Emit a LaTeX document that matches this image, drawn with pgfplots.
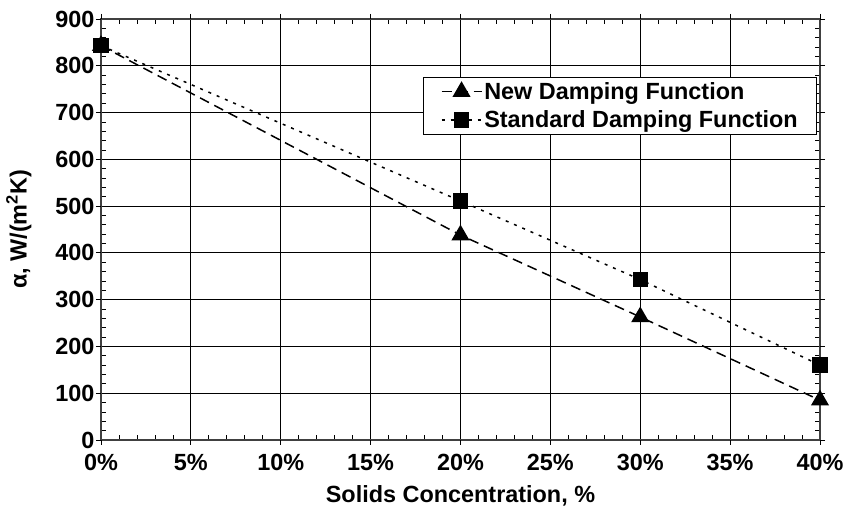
\documentclass[border=0pt]{standalone}
\usepackage{fontspec}
\setmainfont{Liberation Sans}
\usepackage{pgfplots}
\pgfplotsset{compat=1.18}

% Heat transfer coefficient vs. solids concentration
\pgfplotstableread{
conc alpha
0  843
20 438
30 263
40 85
}\newdamping
\pgfplotstableread{
conc alpha
0  843
20 511
30 343
40 160
}\stddamping

\begin{document}
\begin{tikzpicture}
\path[use as bounding box] (0,0) rectangle (848bp,517bp);
\begin{axis}[
  at={(101bp,77bp)}, anchor=south west,
  scale only axis, width=719bp, height=421bp,
  xmin=0, xmax=40, ymin=0, ymax=900,
  xtick={0,5,...,40},
  xticklabels={0\%,5\%,10\%,15\%,20\%,25\%,30\%,35\%,40\%},
  ytick={0,100,...,900},
  minor x tick num=4, minor y tick num=4,
  tick align=inside,
  major tick length=6bp, minor tick length=5bp,
  tick style={black, line width=0.8bp},
  extra x ticks={0,5,...,40}, extra x tick labels={},
  extra y ticks={0,100,...,900}, extra y tick labels={},
  extra tick style={tick align=outside, major tick length=5bp, grid=none},
  grid=major,
  major grid style={black, line width=0.8bp},
  axis line style={draw=black!75, line width=1.2bp},
  font=\bfseries\fontsize{23.5}{28}\selectfont,
  /pgf/number format/assume math mode=true,
  xticklabel style={yshift=-11bp},
  yticklabel style={xshift=-3bp},
  xlabel={Solids Concentration, \%},
  xlabel style={yshift=-3bp},
  ylabel={α, W/(m\textsuperscript{2}K)},
  ylabel style={yshift=12bp},
  legend style={at={(rel axis cs:0.996,0.862)}, anchor=north east,
    draw=black, line width=0.8bp, fill=white,
    font=\bfseries\fontsize{23.5}{28}\selectfont,
    inner xsep=17bp, inner ysep=3bp, row sep=6bp},
  legend cell align=left,
  legend image code/.code={%
    \draw[mark repeat=2, mark phase=2]
      plot coordinates {(0bp,0bp) (20bp,0bp) (40bp,0bp)};},
]
\addplot[black, line width=1.5bp, dash pattern=on 10bp off 6bp,
  mark=triangle*, mark size=9bp, mark options={solid}]
  table[x=conc, y=alpha] {\newdamping};
\addlegendentry{New Damping Function}
\addplot[black, line width=1.5bp, dash pattern=on 3bp off 6bp,
  mark=square*, mark size=7bp, mark options={solid}]
  table[x=conc, y=alpha] {\stddamping};
\addlegendentry{Standard Damping Function}
\end{axis}
\end{tikzpicture}
\end{document}
